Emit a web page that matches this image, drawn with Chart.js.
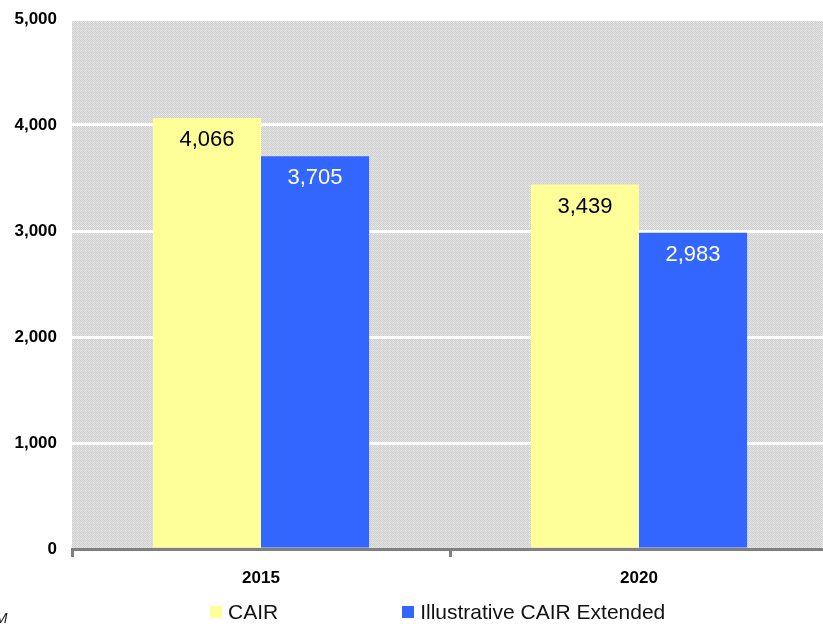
<!DOCTYPE html>
<html>
<head>
<meta charset="utf-8">
<script src="https://cdn.jsdelivr.net/npm/chart.js@4.4.1/dist/chart.umd.min.js"></script>
<style>
    html, body { margin: 0; padding: 0; background: #fff; overflow: hidden; }
    #wrap { position: relative; width: 823px; height: 629px; overflow: hidden; }
    #chart-cair { position: absolute; left: 0; top: 0; }
    #legend {
        position: absolute; left: 210px; top: 600px;
        display: flex; align-items: center;
        font: 21px "Liberation Sans", Arial, sans-serif; color: #111;
    }
    #legend .item { display: flex; align-items: center; margin-right: 124px; }
    #legend .box { width: 12px; height: 12px; margin-right: 6px; }
    #note {
        position: absolute; left: -5px; top: 609px;
        font: italic 15px "Liberation Sans", Arial, sans-serif; color: #222;
    }
</style>
</head>
<body>
<div id="wrap">
    <canvas id="chart-cair" width="830" height="629"></canvas>
    <div id="legend"></div>
    <div id="note">M</div>
</div>
<script>
// Jahre und Werte
const YEARS = ['2015', '2020'];
const CAIR = [4066, 3439];
const CAIR_EXTENDED = [3705, 2983];
const SERIES_NAMES = ['CAIR', 'Illustrative CAIR Extended'];
const Y_TICKS = [0, 1000, 2000, 3000, 4000, 5000];

const COLORS = {
    yellow: '#FFFF99',
    blue: '#3366FF',
    axis: '#808080',
    grid: '#FFFFFF'
};

const FONT = '"Liberation Sans", Arial, sans-serif';

// Gepunkteter Hintergrund fuer die Plotflaeche
function makePattern() {
    const c = document.createElement('canvas');
    c.width = 4; c.height = 4;
    const g = c.getContext('2d');
    g.fillStyle = '#e2e2e2';
    g.fillRect(0, 0, 4, 4);
    g.fillStyle = '#cfcfcf';
    g.fillRect(0, 0, 1, 1); g.fillRect(2, 0, 1, 1);
    g.fillRect(1, 1, 1, 1); g.fillRect(3, 1, 1, 1);
    g.fillRect(0, 2, 1, 1); g.fillRect(2, 2, 1, 1);
    g.fillRect(1, 3, 1, 1); g.fillRect(3, 3, 1, 1);
    g.fillStyle = '#f2f2f2';
    g.fillRect(1, 2, 1, 1);
    return g.createPattern(c, 'repeat');
}

const plotBackground = {
    id: 'plotBackground',
    beforeDraw(chart) {
        const { ctx, chartArea: a } = chart;
        ctx.save();
        ctx.fillStyle = makePattern();
        ctx.fillRect(a.left, a.top, a.right - a.left, a.bottom - a.top);
        ctx.restore();
    }
};

// Werte in den Balken oben
const barValues = {
    id: 'barValues',
    afterDatasetsDraw(chart) {
        const ctx = chart.ctx;
        ctx.save();
        ctx.font = '22px ' + FONT;
        ctx.textAlign = 'center';
        ctx.textBaseline = 'middle';
        chart.data.datasets.forEach((ds, i) => {
            const meta = chart.getDatasetMeta(i);
            meta.data.forEach((bar, j) => {
                ctx.fillStyle = ds.labelColor;
                ctx.fillText(ds.data[j].toLocaleString('en-US'), bar.x, bar.y + 22);
            });
        });
        ctx.restore();
    }
};

const ctx = document.getElementById('chart-cair');

const chartCair = new Chart(ctx, {
    type: 'bar',
    data: {
        labels: YEARS,
        datasets: [{
            label: SERIES_NAMES[0],
            data: CAIR,
            backgroundColor: COLORS.yellow,
            labelColor: '#000'
        }, {
            label: SERIES_NAMES[1],
            data: CAIR_EXTENDED,
            backgroundColor: COLORS.blue,
            labelColor: '#fff'
        }]
    },
    options: {
        responsive: false,
        animation: false,
        layout: { padding: { top: 19, right: 2, left: 0, bottom: 0 } },
        datasets: {
            bar: { categoryPercentage: 0.572, barPercentage: 1.0 }
        },
        plugins: {
            legend: { display: false },
            tooltip: { enabled: false }
        },
        scales: {
            x: {
                grid: {
                    drawOnChartArea: false,
                    color: COLORS.axis,
                    lineWidth: 3,
                    tickLength: 8
                },
                border: { color: COLORS.axis, width: 3 },
                ticks: {
                    color: '#000',
                    padding: 11,
                    font: { family: FONT, size: 17, weight: 'bold' }
                },
                afterFit: (scale) => {
                    scale.height = 80;
                    scale.paddingLeft = 0;
                    scale.paddingRight = 0;
                }
            },
            y: {
                min: 0,
                max: 5000,
                afterBuildTicks: (scale) => {
                    scale.ticks = Y_TICKS.map(v => ({ value: v }));
                },
                grid: {
                    color: COLORS.grid,
                    lineWidth: 3,
                    drawTicks: false
                },
                border: { display: false },
                ticks: {
                    color: '#000',
                    padding: 15,
                    font: { family: FONT, size: 17, weight: 'bold' },
                    callback: (value) => value.toLocaleString('en-US')
                },
                afterFit: (scale) => {
                    scale.width = 72;
                    scale.paddingTop = 0;
                    scale.paddingBottom = 0;
                }
            }
        }
    },
    plugins: [plotBackground, barValues]
});

// Legende unter dem Diagramm
const legendEl = document.getElementById('legend');
chartCair.data.datasets.forEach(ds => {
    const item = document.createElement('div');
    item.className = 'item';
    const box = document.createElement('span');
    box.className = 'box';
    box.style.background = ds.backgroundColor;
    const text = document.createElement('span');
    text.textContent = ds.label;
    item.appendChild(box);
    item.appendChild(text);
    legendEl.appendChild(item);
});
</script>
</body>
</html>
